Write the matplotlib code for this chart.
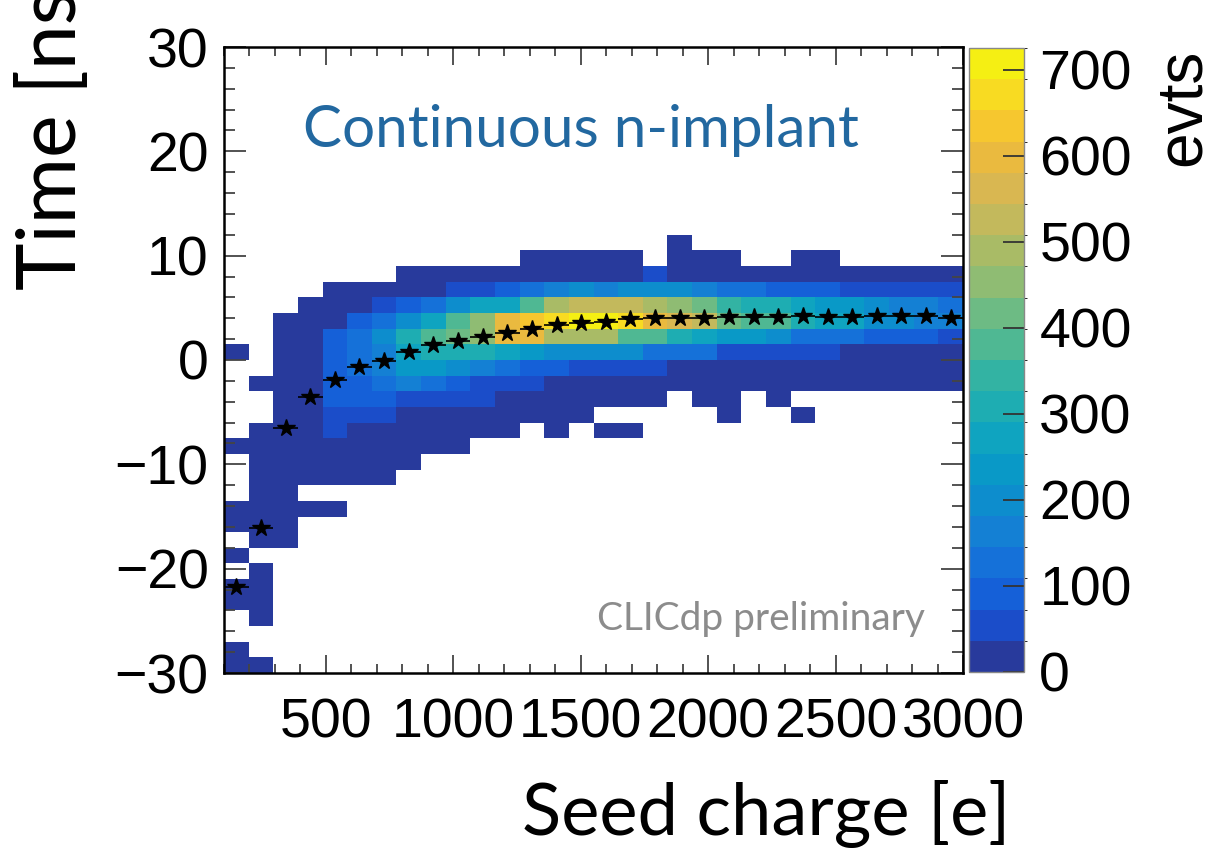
import numpy as np
import matplotlib
matplotlib.use("Agg")
import matplotlib.pyplot as plt
from matplotlib.colors import ListedColormap, BoundaryNorm
from matplotlib.ticker import MultipleLocator, FixedLocator

# ---------------- data ----------------
x_edges = np.linspace(100, 3000, 31)          # seed charge bins [e]
t_edges = np.arange(-30, 30.01, 1.5)           # time bins [ns]

# lower edge of each filled time row (top to bottom)
row_t_low = [10.5, 9, 7.5, 6, 4.5, 3, 1.5, 0, -1.5, -3, -4.5, -6, -7.5, -9,
             -10.5, -12, -13.5, -15, -16.5, -18, -19.5, -21, -22.5, -24,
             -25.5, -27, -28.5, -30]

# counts per row, 30 seed-charge columns each
counts = [
    [0,0,0,0,0,0,0,0,0,0,0,0,0,0,0,0,0,0,4,0,0,0,0,0,0,0,0,0,0,0],
    [0,0,0,0,0,0,0,0,0,0,0,0,6,8,10,9,7,0,8,6,5,0,0,4,5,0,0,0,0,0],
    [0,0,0,0,0,0,0,10,14,18,22,26,28,30,32,33,34,45,33,30,28,26,24,22,20,18,17,16,15,14],
    [0,0,0,0,8,15,22,28,34,50,60,90,125,160,200,165,195,205,200,170,130,125,100,95,90,65,60,55,50,48],
    [0,0,0,10,18,30,55,90,125,200,270,275,380,490,525,530,525,490,450,415,345,310,300,270,235,230,200,165,160,125],
    [0,0,12,20,30,90,125,200,270,380,450,600,640,670,705,710,670,600,560,525,415,380,380,310,270,265,200,195,165,160],
    [0,0,15,22,90,125,200,310,380,415,450,600,595,490,490,485,380,375,310,270,235,230,200,125,125,120,90,90,88,55],
    [10,0,18,25,90,125,165,270,310,310,310,270,235,200,195,190,185,125,120,115,60,55,50,45,40,30,25,22,20,18],
    [0,0,20,28,90,125,165,235,235,200,165,125,90,85,55,55,50,45,30,25,22,20,18,16,15,12,10,10,9,8],
    [0,8,22,30,90,90,125,165,125,90,55,50,45,30,25,22,20,18,15,14,12,10,9,8,7,6,6,5,5,4],
    [0,0,25,30,90,90,90,55,50,45,40,30,25,20,15,10,8,6,0,4,3,0,3,0,0,0,0,0,0,0],
    [0,0,25,30,55,55,55,30,25,20,15,10,8,6,4,0,0,0,0,0,3,0,0,2,0,0,0,0,0,0],
    [0,10,22,28,55,30,25,20,15,10,6,4,0,3,0,3,2,0,0,0,0,0,0,0,0,0,0,0,0,0],
    [5,12,20,25,25,20,15,10,6,4,0,0,0,0,0,0,0,0,0,0,0,0,0,0,0,0,0,0,0,0],
    [0,10,15,18,15,10,6,3,0,0,0,0,0,0,0,0,0,0,0,0,0,0,0,0,0,0,0,0,0,0],
    [0,8,12,14,10,6,3,0,0,0,0,0,0,0,0,0,0,0,0,0,0,0,0,0,0,0,0,0,0,0],
    [0,6,8,0,0,0,0,0,0,0,0,0,0,0,0,0,0,0,0,0,0,0,0,0,0,0,0,0,0,0],
    [4,8,10,6,3,0,0,0,0,0,0,0,0,0,0,0,0,0,0,0,0,0,0,0,0,0,0,0,0,0],
    [5,10,6,0,0,0,0,0,0,0,0,0,0,0,0,0,0,0,0,0,0,0,0,0,0,0,0,0,0,0],
    [0,8,5,0,0,0,0,0,0,0,0,0,0,0,0,0,0,0,0,0,0,0,0,0,0,0,0,0,0,0],
    [4,0,0,0,0,0,0,0,0,0,0,0,0,0,0,0,0,0,0,0,0,0,0,0,0,0,0,0,0,0],
    [0,5,0,0,0,0,0,0,0,0,0,0,0,0,0,0,0,0,0,0,0,0,0,0,0,0,0,0,0,0],
    [6,4,0,0,0,0,0,0,0,0,0,0,0,0,0,0,0,0,0,0,0,0,0,0,0,0,0,0,0,0],
    [5,3,0,0,0,0,0,0,0,0,0,0,0,0,0,0,0,0,0,0,0,0,0,0,0,0,0,0,0,0],
    [0,3,0,0,0,0,0,0,0,0,0,0,0,0,0,0,0,0,0,0,0,0,0,0,0,0,0,0,0,0],
    [0,0,0,0,0,0,0,0,0,0,0,0,0,0,0,0,0,0,0,0,0,0,0,0,0,0,0,0,0,0],
    [3,0,0,0,0,0,0,0,0,0,0,0,0,0,0,0,0,0,0,0,0,0,0,0,0,0,0,0,0,0],
    [4,2,0,0,0,0,0,0,0,0,0,0,0,0,0,0,0,0,0,0,0,0,0,0,0,0,0,0,0,0],
]

# mean time per seed-charge bin (profile)
profile_mean = [-21.8, -16.1, -6.5, -3.5, -1.9, -0.7, -0.1, 0.75, 1.4, 1.8,
                2.2, 2.6, 3.0, 3.35, 3.55, 3.65, 3.95, 4.0, 4.0, 4.0,
                4.15, 4.1, 4.1, 4.2, 4.1, 4.1, 4.2, 4.2, 4.2, 4.05]

z_max = 725
n_levels = 20
cbar_ticks = [0, 100, 200, 300, 400, 500, 600, 700]
x_ticks = [500, 1000, 1500, 2000, 2500, 3000]
y_ticks = [-30, -20, -10, 0, 10, 20, 30]

# ---------------- build grid ----------------
Z = np.zeros((len(t_edges) - 1, len(x_edges) - 1))
for tl, row in zip(row_t_low, counts):
    j = int(round((tl + 30) / 1.5))
    Z[j, :] = row
Zm = np.ma.masked_where(Z <= 0, Z)

band_colors = ['#283a9c', '#1b4dc9', '#1560d8', '#1571d9', '#1480d4',
               '#0d8dcd', '#0999c7', '#0fa4c0', '#1eadb2', '#33b3a3',
               '#4fb893', '#6dbb84', '#8fbc73', '#a9bb66', '#c3b95c',
               '#d9b751', '#eaba3f', '#f6c72f', '#f8db22', '#f5ef13']
cmap = ListedColormap(band_colors)
levels = np.linspace(0, z_max, n_levels + 1)
norm = BoundaryNorm(levels, cmap.N)

W, H = 1217, 850
fig = plt.figure(figsize=(W / 100, H / 100), dpi=100)
fig.patch.set_facecolor('white')

def fx(px):
    return px / W

def fy(py):
    return 1 - py / H

ax = fig.add_axes([fx(224), fy(673), fx(963) - fx(224), fy(47) - fy(673)])
mesh = ax.pcolormesh(x_edges, t_edges, Zm, cmap=cmap, norm=norm,
                     edgecolors='none', linewidth=0)

xc = 0.5 * (x_edges[:-1] + x_edges[1:])
xerr = 0.5 * np.diff(x_edges)
ax.errorbar(xc, profile_mean, xerr=xerr, fmt='*', color='black',
            markersize=13, elinewidth=1.2, capsize=0, zorder=5)

ax.set_xlim(100, 3000)
ax.set_ylim(-30, 30)

tick_font = dict(family='Liberation Sans', size=40)
ax.xaxis.set_major_locator(FixedLocator(x_ticks))
ax.xaxis.set_minor_locator(MultipleLocator(100))
ax.yaxis.set_major_locator(FixedLocator(y_ticks))
ax.yaxis.set_minor_locator(MultipleLocator(2))
ax.set_xticklabels([str(v) for v in x_ticks], fontdict=tick_font)
ax.set_yticklabels([('\u2212' + str(-v)) if v < 0 else str(v) for v in y_ticks],
                   fontdict=tick_font)
ax.tick_params(axis='both', which='both', direction='in', top=True, right=True,
               color='#444444', width=1.3)
ax.tick_params(axis='y', which='major', length=16, pad=11)
ax.tick_params(axis='y', which='minor', length=8)
ax.tick_params(axis='x', which='major', length=13, pad=18)
ax.tick_params(axis='x', which='minor', length=6.5)
for s in ax.spines.values():
    s.set_linewidth(1.8)
    s.set_color('black')

# colour bar
cax = fig.add_axes([fx(969), fy(672), fx(1024) - fx(969), fy(48) - fy(672)])
cb = fig.colorbar(mesh, cax=cax, ticks=cbar_ticks)
cb.outline.set_linewidth(1.0)
cb.outline.set_edgecolor('#888888')
cax.set_yticklabels([str(v) for v in cbar_ticks], fontdict=tick_font)
cax.tick_params(axis='y', direction='in', length=15, width=1.3, color='#333333',
                pad=11, right=True, left=False)

fig.text(fx(1200), fy(166), 'evts', rotation=90, rotation_mode='anchor',
         ha='left', va='baseline', family='Liberation Sans', fontsize=46)

# overlay texts
fig.text(fx(522), fy(835), 'Seed charge [e]', ha='left', va='baseline',
         family='Lato', fontsize=52, color='black')
fig.text(fx(76), fy(290), 'Time [ns]', rotation=90, rotation_mode='anchor',
         ha='left', va='baseline', family='Lato', fontsize=58, color='black')
fig.text(fx(303), fy(147), 'Continuous n-implant', ha='left', va='baseline',
         family='Lato', fontsize=42, color='#2268a0')
fig.text(fx(925), fy(630), 'CLICdp preliminary', ha='right', va='baseline',
         family='Lato', fontsize=28, color='#8c8c8c')

fig.savefig('out.png', dpi=100, facecolor='white')
